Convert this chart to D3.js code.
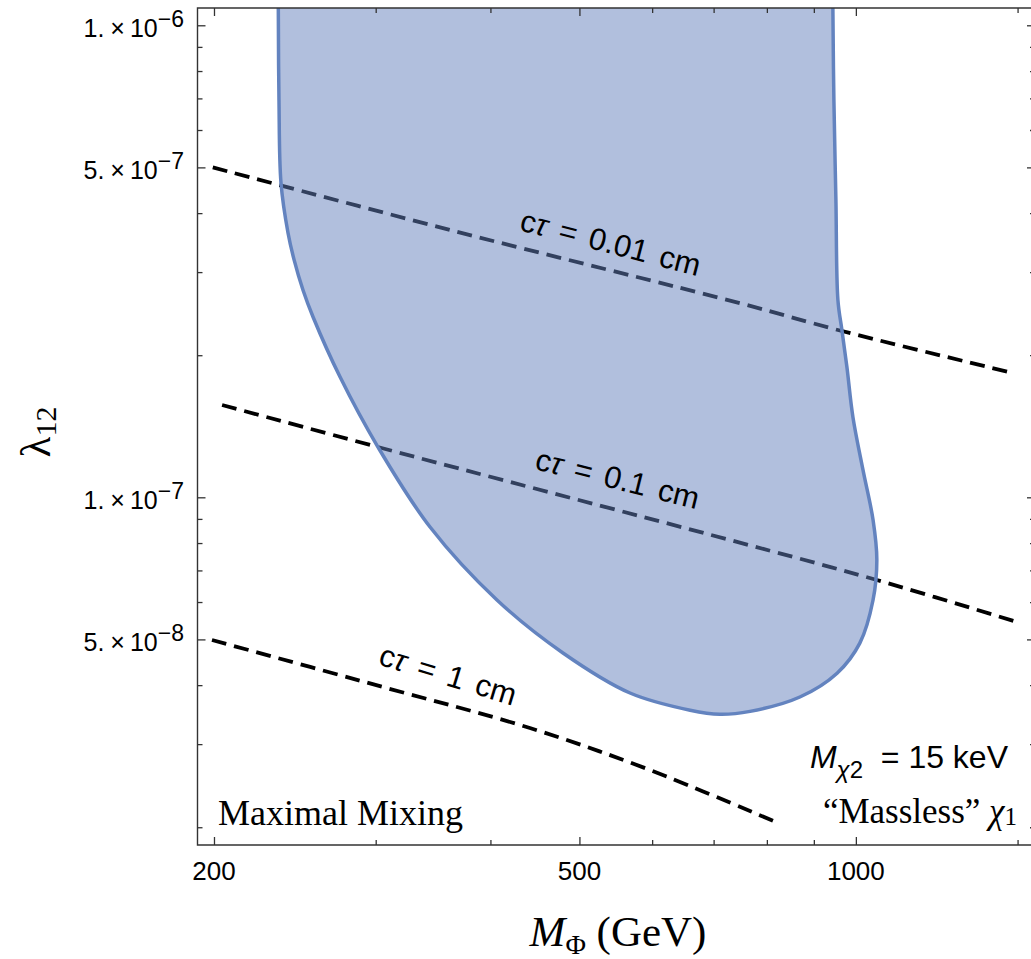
<!DOCTYPE html>
<html>
<head>
<meta charset="utf-8">
<script src="https://cdn.jsdelivr.net/npm/d3@7"></script>
<style>
  body { margin: 0; background: #fff; }
  text { fill: #000; }
</style>
</head>
<body>
<div id="chart"></div>
<script>
// axis ticks
const xMajor = [200, 500, 1000];
const xMinor = [300, 400, 600, 700, 800, 900, 1500];
const yMajor = [1e-6, 5e-7, 1e-7, 5e-8];
const yMantissa = ["1.", "5.", "1.", "5."];
const yExponent = ["\u22126", "\u22127", "\u22127", "\u22128"];
const yMinor = [2e-8, 3e-8, 4e-8, 6e-8, 7e-8, 8e-8, 9e-8,
                2e-7, 3e-7, 4e-7, 6e-7, 7e-7, 8e-7, 9e-7];

// allowed region boundary (M_Phi in GeV, lambda_12)
const regionMass   = [235, 235, 235.4, 236.6, 240.8, 244.5, 250, 256.4, 274.3, 301.7, 343.8, 406.6, 479.8, 567.6, 660, 711,
                      767, 869, 954, 1010, 1044, 1054, 1044, 1018, 992.6, 977.8, 965.6, 956, 951.2, 946.4, 944, 944];
const regionLambda = [1.2e-6, 1.088e-6, 6.95e-7, 4.63e-7, 3.63e-7, 3.184e-7, 2.749e-7, 2.41e-7, 1.80e-7, 1.278e-7, 8.65e-8, 6.06e-8, 4.68e-8, 3.85e-8, 3.54e-8, 3.47e-8,
                      3.52e-8, 3.775e-8, 4.24e-8, 4.91e-8, 6.06e-8, 7.37e-8, 8.96e-8, 1.143e-7, 1.48e-7, 1.888e-7, 2.262e-7, 2.618e-7, 4.26e-7, 6.95e-7, 1.088e-6, 1.2e-6];

// decay length contours
const ct001Mass   = [199.4, 361.4, 753.4, 956, 1482.6];
const ct001Lambda = [5.0e-7, 3.685e-7, 2.568e-7, 2.262e-7, 1.834e-7];
const ct01Mass    = [204.1, 301.6, 729.2, 1054, 1508.6];
const ct01Lambda  = [1.569e-7, 1.278e-7, 8.12e-8, 6.68e-8, 5.42e-8];
const ct1Mass     = [199.0, 303.2, 441.6, 596.8, 822.4];
const ct1Lambda   = [4.985e-8, 3.98e-8, 3.245e-8, 2.644e-8, 2.042e-8];

const W = 1031, H = 959;
const L = 197.5, R = 1035, T = 8, B = 845;

const svg = d3.select("#chart").append("svg")
    .attr("width", W)
    .attr("height", H);

const x = d3.scaleLog().domain([191.9, 1567]).range([L, R]);
const y = d3.scaleLog().domain([1.834e-8, 1.088e-6]).range([B, T]);

svg.append("clipPath").attr("id", "plot")
  .append("rect").attr("x", L).attr("y", T).attr("width", R - L).attr("height", B - T);
const plot = svg.append("g").attr("clip-path", "url(#plot)");

const line = d3.line().x(d => x(d[0])).y(d => y(d[1])).curve(d3.curveCatmullRom);

[[ct001Mass, ct001Lambda], [ct01Mass, ct01Lambda], [ct1Mass, ct1Lambda]].forEach(([m, l]) => {
  plot.append("path")
      .attr("d", line(d3.zip(m, l)))
      .attr("fill", "none")
      .attr("stroke", "#000")
      .attr("stroke-width", 3.8)
      .attr("stroke-dasharray", "15 8");
});

plot.append("path")
    .attr("d", line(d3.zip(regionMass, regionLambda)) + "Z")
    .attr("fill", "#6380bc")
    .attr("fill-opacity", 0.5)
    .attr("stroke", "#6383bf")
    .attr("stroke-width", 3.5);

// ticks
function ticks(axis, vals, size, tr) {
  svg.append("g")
      .attr("transform", tr)
      .call(axis.tickValues(vals).tickSize(size).tickFormat(""))
      .call(g => g.select(".domain").remove())
      .selectAll("line").attr("stroke", "#333").attr("stroke-width", 1.3);
}
ticks(d3.axisBottom(x), xMajor, -8, `translate(0,${B})`);
ticks(d3.axisBottom(x), xMinor, -5, `translate(0,${B})`);
ticks(d3.axisTop(x), xMajor, -8, `translate(0,${T})`);
ticks(d3.axisTop(x), xMinor, -5, `translate(0,${T})`);
ticks(d3.axisLeft(y), yMajor, -8, `translate(${L},0)`);
ticks(d3.axisLeft(y), yMinor, -5, `translate(${L},0)`);
ticks(d3.axisRight(y), yMajor, -8, `translate(${R},0)`);
ticks(d3.axisRight(y), yMinor, -5, `translate(${R},0)`);

// frame
svg.append("path")
    .attr("d", `M${R},${T}H${L}V${B}H${R}`)
    .attr("fill", "none")
    .attr("stroke", "#333")
    .attr("stroke-width", 1.4);

// x tick labels
svg.selectAll(".xlab").data(xMajor).join("text")
    .attr("x", d => x(d))
    .attr("y", 880)
    .attr("text-anchor", "middle")
    .attr("font-family", "Liberation Sans, Arial, sans-serif")
    .attr("font-size", 26)
    .text(d => d);

// y tick labels
yMajor.forEach((v, i) => {
  const t = svg.append("text")
      .attr("x", 184)
      .attr("y", y(v) + 12)
      .attr("text-anchor", "end")
      .attr("font-family", "Liberation Sans, Arial, sans-serif")
      .attr("font-size", 25);
  t.append("tspan").text(yMantissa[i]);
  t.append("tspan").attr("dx", 6).text("\u00d7");
  t.append("tspan").attr("dx", 5).text("10");
  t.append("tspan").attr("dy", -10).attr("font-size", 23).text(yExponent[i]);
});

// axis titles
const xt = svg.append("text")
    .attr("x", 618).attr("y", 946)
    .attr("text-anchor", "middle")
    .attr("font-family", "Liberation Serif, Times New Roman, serif")
    .attr("font-size", 43);
xt.append("tspan").attr("font-style", "italic").text("M");
xt.append("tspan").attr("font-size", 28).attr("dy", 8).text("\u03a6");
xt.append("tspan").attr("dy", -8).text(" (GeV)");

const yt = svg.append("text")
    .attr("transform", "translate(50,432) rotate(-90)")
    .attr("text-anchor", "middle")
    .attr("font-family", "Liberation Serif, Times New Roman, serif")
    .attr("font-size", 43);
yt.append("tspan").text("\u03bb");
yt.append("tspan").attr("font-size", 30).attr("dy", 6).text("12");

// contour labels
function ctLabel(cx, cy, ang, val) {
  const t = svg.append("text")
      .attr("transform", `translate(${cx},${cy}) rotate(${ang})`)
      .attr("text-anchor", "middle")
      .attr("font-family", "Liberation Sans, Arial, sans-serif")
      .attr("font-size", 31)
      .attr("word-spacing", 4);
  t.append("tspan").text("c");
  t.append("tspan").attr("font-style", "italic").text("\u03c4");
  t.append("tspan").text(" = " + val + " cm");
}
ctLabel(608, 253, 14.5, "0.01");
ctLabel(615, 489, 13.9, "0.1");
ctLabel(445, 685, 17, "1");

// annotations
svg.append("text")
    .attr("x", 218).attr("y", 825)
    .attr("font-family", "Liberation Serif, Times New Roman, serif")
    .attr("font-size", 36)
    .text("Maximal Mixing");

const mt = svg.append("text")
    .attr("x", 1008).attr("y", 768)
    .attr("text-anchor", "end")
    .attr("font-family", "Liberation Sans, Arial, sans-serif")
    .attr("font-size", 32);
mt.append("tspan").attr("font-style", "italic").text("M");
mt.append("tspan").attr("font-size", 24).attr("dy", 10).attr("font-style", "italic").text("\u03c7");
mt.append("tspan").attr("font-size", 24).text("2");
mt.append("tspan").attr("dy", -10).text("\u00a0\u00a0= 15 keV");

const ml = svg.append("text")
    .attr("x", 1017).attr("y", 823)
    .attr("text-anchor", "end")
    .attr("font-family", "Liberation Serif, Times New Roman, serif")
    .attr("font-size", 35);
ml.append("tspan").text("\u201cMassless\u201d ");
ml.append("tspan").attr("font-style", "italic").text("\u03c7");
ml.append("tspan").attr("font-size", 25).attr("dy", 2).text("1");
</script>
</body>
</html>
